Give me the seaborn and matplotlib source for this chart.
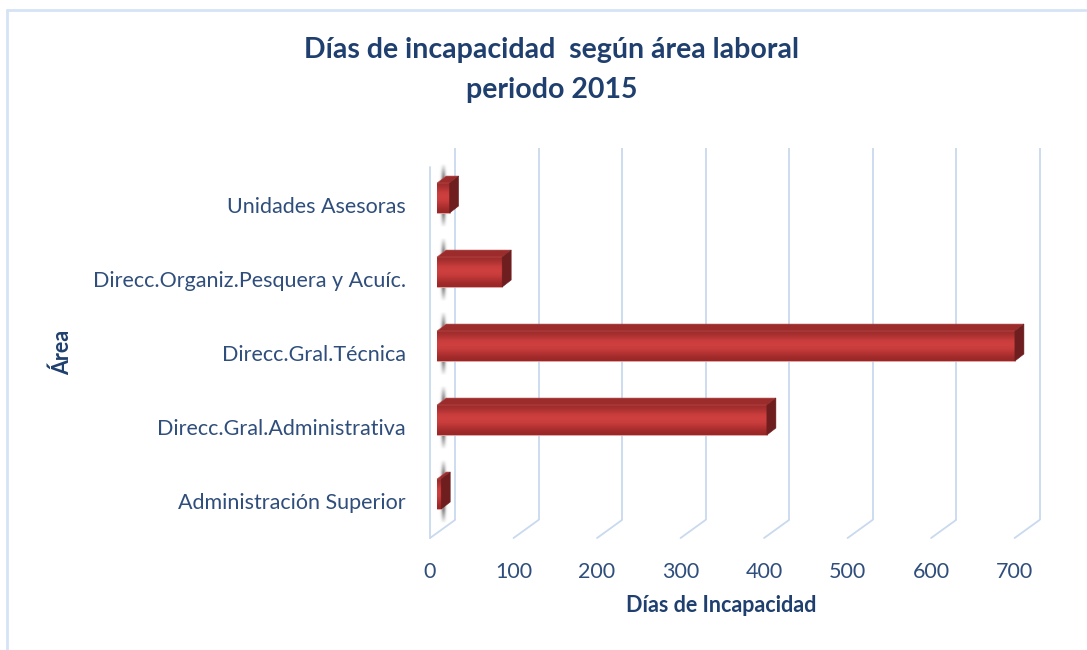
import numpy as np
import pandas as pd
import matplotlib
matplotlib.use('Agg')
import matplotlib.pyplot as plt
import seaborn as sns
from matplotlib.patches import Polygon
from matplotlib.lines import Line2D

# data
areas = ['Unidades Asesoras',
         'Direcc.Organiz.Pesquera y Acuíc.',
         'Direcc.Gral.Técnica',
         'Direcc.Gral.Administrativa',
         'Administración Superior']
dias = [15, 78, 692, 395, 5]
ticks_x = [0, 100, 200, 300, 400, 500, 600, 700]

df = pd.DataFrame({'Área': areas, 'Días': dias})

sns.set_style('white')
plt.rcParams['font.family'] = ['Lato', 'DejaVu Sans']

txt_col = '#2F4E7C'
title_col = '#1F3F6E'
grid_col = '#C9D9EE'

fig = plt.figure(figsize=(10.87, 6.5), dpi=100)
# axes placed so that 0 of bars sits at px 437, 83.5 px per 100
ax = fig.add_axes([420 / 1087, 105 / 650, 640 / 1087, 405 / 650])

sns.barplot(data=df, x='Días', y='Área', order=areas, orient='h',
            color='#C63C3C', width=0.405, ax=ax, zorder=3,
            edgecolor='#E2A5A5', linewidth=0.6)

xlim = (-20.4, 746.0)
ylim = (4.689, -0.784)

# pseudo 3d walls
front_off = -8.4   # front floor offset (data units)
back_off = 21.6    # back wall offset
y_top_back = -0.676
y_floor_back = 4.35
y_floor_front = 4.595
for v in ticks_x:
    ax.plot([v + back_off, v + back_off], [y_top_back, y_floor_back],
            color=grid_col, lw=1.3, zorder=1, solid_capstyle='butt')
    ax.plot([v + back_off, v + front_off], [y_floor_back, y_floor_front],
            color=grid_col, lw=1.3, zorder=1)
ax.plot([front_off, front_off], [-0.42, y_floor_front],
        color=grid_col, lw=1.3, zorder=1)

# depth of bars
dx = 9 / 0.835
dy = 7 / 74.0

# blurred shadow streak behind left end of each bar
gx = np.exp(-((np.linspace(-1, 1, 24)) ** 2) / 0.18)
gy = np.clip(np.sin(np.linspace(0, np.pi, 40)) * 1.6, 0, 1)
shadow = np.zeros((40, 24, 4))
shadow[..., :3] = 0.35
shadow[..., 3] = np.outer(gy, gx) * 0.75

for p in ax.patches:
    x0, w = p.get_x(), p.get_width()
    y0, h = p.get_y(), p.get_height()
    ytop, ybot = min(y0, y0 + h), max(y0, y0 + h)

    ax.imshow(shadow, extent=[x0 + 1, x0 + 13, ybot + 0.2, ytop - 0.27],
              aspect='auto', zorder=2, interpolation='bilinear')

    # gradient on the front face
    grad = np.array([[0.62, 0.17, 0.17], [0.80, 0.24, 0.24],
                     [0.82, 0.26, 0.26], [0.74, 0.21, 0.21],
                     [0.60, 0.15, 0.15]])
    ax.imshow(grad[:, None, :], extent=[x0, x0 + w, ybot, ytop],
              aspect='auto', zorder=3.5, interpolation='bicubic',
              clip_path=p, clip_on=True)

    top = Polygon([(x0, ytop), (x0 + w, ytop), (x0 + w + dx, ytop - dy),
                   (x0 + dx, ytop - dy)], closed=True,
                  facecolor='#9C2B2B', edgecolor='#B55', lw=0.4, zorder=4)
    side = Polygon([(x0 + w, ytop), (x0 + w + dx, ytop - dy),
                    (x0 + w + dx, ybot - dy), (x0 + w, ybot)], closed=True,
                   facecolor='#6E1E1E', edgecolor='#6E1E1E', lw=0.4, zorder=4)
    ax.add_patch(top)
    ax.add_patch(side)

ax.set_xlim(*xlim)
ax.set_ylim(*ylim)

ax.set_xticks([v + front_off for v in ticks_x], labels=[str(v) for v in ticks_x])
ax.set_yticks(np.arange(len(areas)) + 0.095, labels=areas)
ax.tick_params(axis='x', length=0, pad=12, labelsize=15.5, labelcolor=txt_col)
ax.tick_params(axis='y', length=0, pad=10, labelsize=15.5, labelcolor=txt_col)
for s in ax.spines.values():
    s.set_visible(False)
ax.grid(False)

ax.set_xlabel('')
ax.set_ylabel('')
fig.text(721 / 1087, 1 - 605 / 650, 'Días de Incapacidad', fontsize=15.5,
         fontweight='bold', color=title_col, ha='center', va='center')
fig.text(62 / 1087, 1 - 352 / 650, 'Área', rotation=90, fontsize=15.5,
         fontweight='bold', color=title_col, ha='center', va='center')

fig.text(552 / 1087, 1 - 50 / 650, 'Días de incapacidad  según área laboral',
         fontsize=20.5, fontweight='bold', color=title_col, ha='center', va='center')
fig.text(552 / 1087, 1 - 90 / 650, 'periodo 2015',
         fontsize=20.5, fontweight='bold', color=title_col, ha='center', va='center')

# chart frame (only top and left edges visible)
fig.lines.append(Line2D([7 / 1087, 1.0], [1 - 10 / 650, 1 - 10 / 650],
                        transform=fig.transFigure, color='#D5E3F5', lw=2))
fig.lines.append(Line2D([7 / 1087, 7 / 1087], [0.0, 1 - 10 / 650],
                        transform=fig.transFigure, color='#D5E3F5', lw=2))

fig.savefig('out.png', dpi=100)
